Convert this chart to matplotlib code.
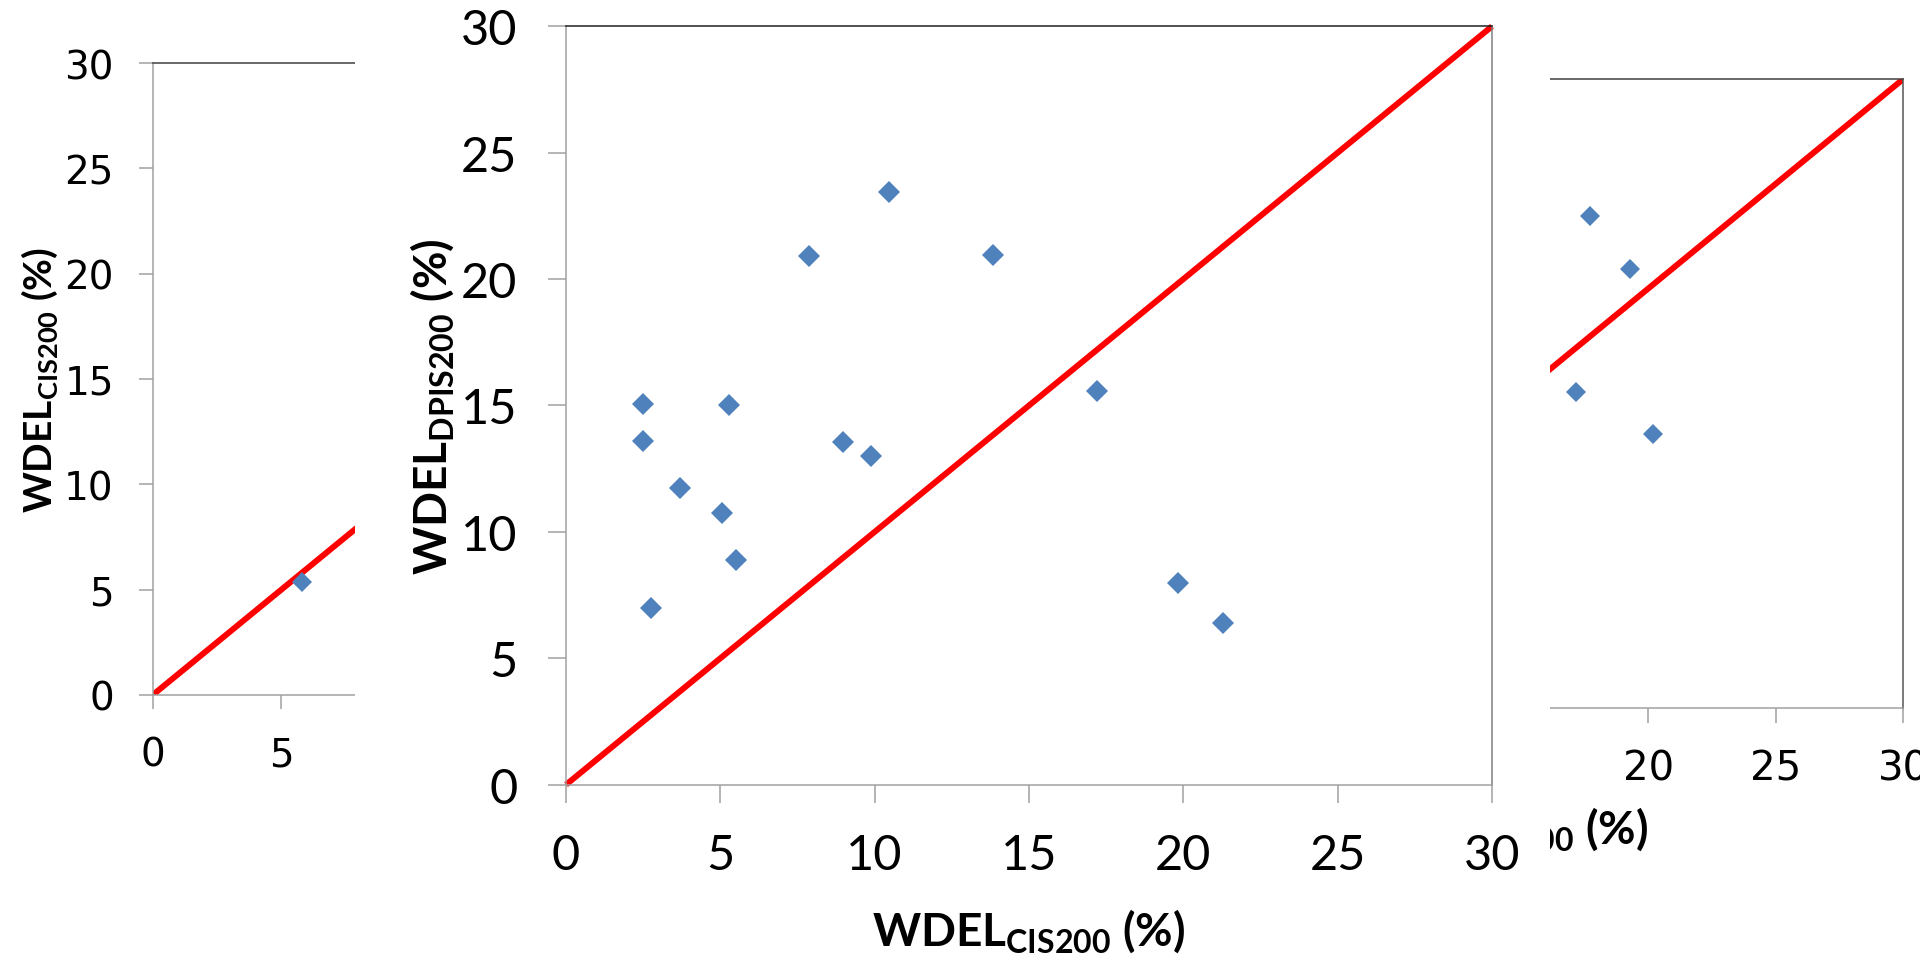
import matplotlib
matplotlib.use("Agg")
import matplotlib.pyplot as plt
from matplotlib.patches import Rectangle

plt.rcParams['font.family'] = ['Lato', 'DejaVu Sans']
plt.rcParams['mathtext.fontset'] = 'custom'
plt.rcParams['mathtext.rm'] = 'Lato'
plt.rcParams['mathtext.bf'] = 'Lato:bold'

# ---------------- data ----------------
ticks = [0, 5, 10, 15, 20, 25, 30]
line_x = [0, 30]
line_y = [0, 30]

# main panel: WDEL_CIS200 vs WDEL_DPIS200
main_x = [2.49, 2.49, 2.76, 3.68, 5.06, 5.27, 5.51, 7.86, 8.98, 9.88, 10.48, 13.85, 17.2, 19.83, 21.28]
main_y = [15.06, 13.6, 7.0, 11.73, 10.76, 15.0, 8.87, 20.91, 13.55, 13.02, 23.44, 20.96, 15.59, 7.97, 6.39]

# left (partly hidden) panel
left_x = [5.80]
left_y = [5.37]

# right (partly hidden) panel
right_x = [17.72, 19.29, 17.17, 20.2]
right_y = [23.46, 20.94, 15.08, 13.05]

main_xlabel = r'$\mathbf{WDEL}_{\mathbf{CIS200}}$ (%)'
main_ylabel = r'$\mathbf{WDEL}_{\mathbf{DPIS200}}$ (%)'
left_ylabel = r'$\mathbf{WDEL}_{\mathbf{CIS200}}$ (%)'
right_xlabel = r'$\mathbf{WDEL}_{\mathbf{CIS200}}$ (%)'

BLUE = '#4F81BD'
RED = '#FF0000'
GRAY = '#A0A0A0'
DARK = '#404040'

fig = plt.figure(figsize=(19.2, 9.62), dpi=100)
fig.patch.set_facecolor('white')


def style(ax, top_col, right_col, tick_len, labelsize, padx, pady, family):
    ax.set_xlim(0, 30)
    ax.set_ylim(0, 30)
    ax.set_xticks(ticks)
    ax.set_yticks(ticks)
    ax.spines['left'].set_color(GRAY)
    ax.spines['bottom'].set_color(GRAY)
    ax.spines['top'].set_color(top_col)
    ax.spines['right'].set_color(right_col)
    for s in ax.spines.values():
        s.set_linewidth(1.1)
    ax.tick_params(axis='both', direction='out', length=tick_len, width=1.1,
                   color=GRAY, labelsize=labelsize, labelcolor='black',
                   labelfontfamily=family)
    ax.tick_params(axis='x', pad=padx)
    ax.tick_params(axis='y', pad=pady)


# ---- left panel (behind) ----
axL = fig.add_axes([0.07953, 0.27651, 0.40188, 0.65696], zorder=0)
style(axL, DARK, DARK, 10, 28, 19, 18, 'DejaVu Sans')
axL.plot(line_x, line_y, color=RED, lw=4.3, solid_capstyle='butt', zorder=2)
axL.plot(left_x, left_y, linestyle='none', marker='D', ms=10, mew=0, color=BLUE, zorder=3)
axL.set_ylabel(left_ylabel, fontsize=28, fontweight='bold')
axL.yaxis.set_label_coords(-0.120, 0.5)

# ---- right panel (behind) ----
axR = fig.add_axes([0.59255, 0.26299, 0.39875, 0.65385], zorder=0)
style(axR, DARK, '#555555', 11, 29, 18, 18, 'DejaVu Sans')
axR.plot(line_x, line_y, color=RED, lw=4.3, solid_capstyle='butt', zorder=2)
axR.plot(right_x, right_y, linestyle='none', marker='D', ms=10, mew=0, color=BLUE, zorder=3)
axR.set_xlabel(right_xlabel, fontsize=33, fontweight='bold', ha='right')
axR.xaxis.set_label_coords(0.6675, -0.152)

# ---- white cover from the middle chart's image area ----
fig.add_artist(Rectangle((0.18490, 0.0), 0.62240, 1.0, transform=fig.transFigure,
                         facecolor='white', edgecolor='none', zorder=1))

# ---- main panel (front) ----
axM = fig.add_axes([0.29479, 0.18327, 0.48229, 0.78836], zorder=2)
style(axM, '#202020', '#808080', 13, 35, 22, 22, 'Lato')
axM.plot(line_x, line_y, color=RED, lw=4.3, solid_capstyle='butt', zorder=2, clip_on=False)
axM.plot(main_x, main_y, linestyle='none', marker='D', ms=11, mew=0, color=BLUE, zorder=3)
axM.set_xlabel(main_xlabel, fontsize=33, fontweight='bold')
axM.xaxis.set_label_coords(0.5, -0.160)
axM.set_ylabel(main_ylabel, fontsize=33, fontweight='bold')
axM.yaxis.set_label_coords(-0.119, 0.5)

fig.savefig('out.png', dpi=100, facecolor='white')
